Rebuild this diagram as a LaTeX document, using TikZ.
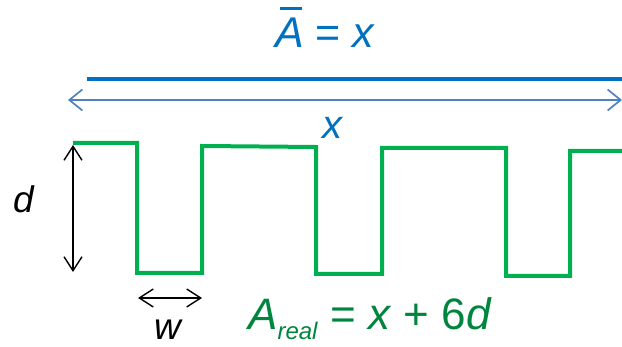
\documentclass[tikz,border=0pt]{standalone}
\usepackage{fontspec}
\setmainfont{Liberation Sans}
\usepackage{xcolor}
\usepackage{tikz}
\usetikzlibrary{arrows.meta, positioning}
\definecolor{meanblue}{HTML}{0070C0}
\definecolor{spanblue}{HTML}{4F81BD}
\definecolor{wavegreen}{HTML}{00B050}
\definecolor{realgreen}{RGB}{0,133,62}
\newcommand{\barA}{\makebox[0pt][l]{\kern 0.12em\rule[0.88em]{0.5em}{0.07em}}\textit{A}}
\tikzstyle{label}    = [inner sep=0pt, font=\fontsize{37}{40}\selectfont\itshape]
\tikzstyle{bigtext}  = [inner sep=0pt, font=\fontsize{43}{48}\selectfont]
\tikzstyle{dimarrow} = [{Straight Barb[length=14pt,width=18pt]}-{Straight Barb[length=14pt,width=18pt]}, line width=1.4pt]
\tikzstyle{spanarrow}= [{Straight Barb[length=13pt,width=21pt]}-{Straight Barb[length=13pt,width=21pt]}, line width=1.7pt, spanblue]

\begin{document}
\begin{tikzpicture}[x=1pt, y=-1pt]
  \useasboundingbox (0,0) rectangle (622,347);

  % Mean area
  \node[bigtext, meanblue, anchor=base west] (title) at (275,48) {\barA{} = \textit{x}};
  \coordinate (lineL) at (87,79);
  \coordinate (lineR) at (622,79);
  \draw[meanblue, line width=4pt] (lineL) -- (lineR);

  % Span x
  \coordinate (spanL) at (68,100);
  \coordinate (spanR) at (622,100);
  \draw[spanarrow] (spanL) -- (spanR);
  \node[label, meanblue, font=\fontsize{40}{44}\selectfont\itshape, anchor=base] (xlabel) at (332,139) {x};

  % Real surface
  \draw[wavegreen, line width=4pt, line join=miter]
    (73,143) -- (137,143) -- (137,273) -- (202,273) -- (202,146)
    -- (316,147) -- (316,274) -- (382,274) -- (382,148)
    -- (506,148) -- (506,276) -- (570,276) -- (570,151) -- (622,151);

  % Depth d
  \coordinate (dtop) at (73,145);
  \coordinate (dbot) at (73,272);
  \draw[dimarrow] (dtop) -- (dbot);
  \node[label, anchor=base west] (dlabel) at (13,213) {d};

  % Width w
  \coordinate (wl) at (138,298);
  \coordinate (wr) at (202,298);
  \draw[dimarrow] (wl) -- (wr);
  \node[label, anchor=base] (wlabel) at (168,340) {w};

  % Real area
  \node[inner sep=0pt, realgreen, font=\fontsize{44}{48}\selectfont, anchor=base west] (areal) at (248,330)
    {\textit{A}\raisebox{-10pt}{\fontsize{24}{26}\selectfont\textit{real}} = \textit{x} + 6\textit{d}};
\end{tikzpicture}
\end{document}
